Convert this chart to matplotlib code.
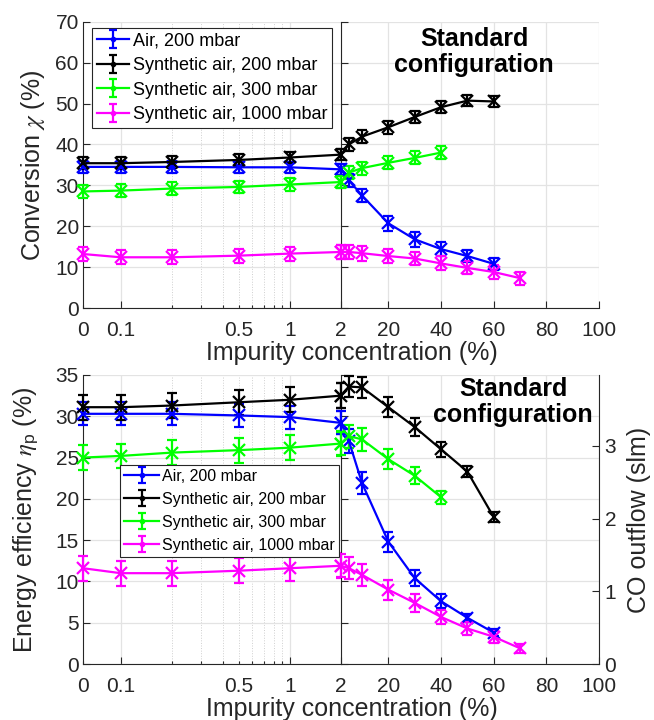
import numpy as np
import matplotlib
matplotlib.use('Agg')
import matplotlib.pyplot as plt
import matplotlib.ticker as ticker

plt.rcParams['font.family'] = ['Liberation Sans', 'DejaVu Sans']
plt.rcParams['mathtext.fontset'] = 'custom'
plt.rcParams['mathtext.rm'] = 'Liberation Sans'
plt.rcParams['mathtext.it'] = 'STIXGeneral:italic'

# impurity concentration (%), low range on log axis, high range linear
x_low = [0, 0.1, 0.2, 0.5, 1, 2]
x_high = [2, 5, 10, 20, 30, 40, 50, 60, 70]

labels = ['Air, 200 mbar', 'Synthetic air, 200 mbar',
          'Synthetic air, 300 mbar', 'Synthetic air, 1000 mbar']
colors = ['#0000ff', '#000000', '#00ff00', '#ff00ff']

# conversion chi (%)
conv_air200_low = [34.5, 34.5, 34.5, 34.4, 34.4, 33.9]
conv_air200_high = [33.9, 31.2, 27.5, 20.7, 16.8, 14.4, 12.7, 10.8]
conv_syn200_low = [35.4, 35.4, 35.7, 36.2, 36.8, 37.5]
conv_syn200_high = [37.5, 40.0, 41.9, 44.2, 46.7, 49.1, 50.7, 50.5]
conv_syn300_low = [28.5, 28.7, 29.2, 29.6, 30.2, 30.8]
conv_syn300_high = [30.8, 33.1, 34.2, 35.5, 36.7, 38.0]
conv_syn1000_low = [13.2, 12.4, 12.4, 12.8, 13.3, 13.7]
conv_syn1000_high = [13.7, 13.7, 13.4, 12.7, 12.1, 10.9, 9.8, 8.8, 7.3]

conv_air200_low_err = [1.4, 1.4, 1.4, 1.4, 1.4, 1.4]
conv_air200_high_err = [1.4, 1.5, 1.6, 1.8, 1.8, 1.7, 1.5, 1.4]
conv_syn200_low_err = [1.4, 1.4, 1.4, 1.4, 1.4, 1.4]
conv_syn200_high_err = [1.4, 1.5, 1.6, 1.6, 1.5, 1.5, 1.4, 1.4]
conv_syn300_low_err = [1.5, 1.5, 1.5, 1.5, 1.5, 1.5]
conv_syn300_high_err = [1.5, 1.6, 1.6, 1.6, 1.6, 1.6]
conv_syn1000_low_err = [1.7, 1.7, 1.7, 1.7, 1.7, 1.7]
conv_syn1000_high_err = [1.7, 1.7, 1.8, 1.7, 1.7, 1.7, 1.6, 1.6, 1.6]

# energy efficiency eta_p (%)
eff_air200_low = [30.3, 30.3, 30.3, 30.1, 29.9, 29.2]
eff_air200_high = [29.2, 27.0, 21.9, 14.8, 10.4, 7.6, 5.6, 3.8]
eff_syn200_low = [31.1, 31.1, 31.3, 31.7, 32.0, 32.5]
eff_syn200_high = [32.5, 33.6, 33.5, 31.1, 28.7, 26.0, 23.3, 17.8]
eff_syn300_low = [25.0, 25.2, 25.6, 25.9, 26.2, 26.7]
eff_syn300_high = [26.7, 27.6, 27.2, 24.8, 22.8, 20.2]
eff_syn1000_low = [11.6, 11.0, 11.0, 11.3, 11.6, 11.9]
eff_syn1000_high = [11.9, 11.6, 10.8, 9.0, 7.4, 5.7, 4.3, 3.3, 1.9]

eff_air200_low_err = [1.4, 1.4, 1.4, 1.4, 1.4, 1.4]
eff_air200_high_err = [1.4, 1.4, 1.3, 1.2, 1.0, 0.85, 0.5, 0.45]
eff_syn200_low_err = [1.5, 1.5, 1.5, 1.5, 1.5, 1.5]
eff_syn200_high_err = [1.5, 1.25, 1.3, 1.2, 1.1, 0.9, 0.7, 0.6]
eff_syn300_low_err = [1.5, 1.5, 1.5, 1.5, 1.5, 1.5]
eff_syn300_high_err = [1.4, 1.4, 1.4, 1.2, 1.0, 0.8]
eff_syn1000_low_err = [1.5, 1.5, 1.5, 1.5, 1.5, 1.5]
eff_syn1000_high_err = [1.4, 1.35, 1.3, 1.2, 1.1, 0.9, 0.75, 0.7, 0.55]

low_ticks = [0, 0.1, 0.5, 1]
high_ticks = [2, 20, 40, 60, 80, 100]
co_ticks = [0, 1, 2, 3]

X_ZERO = 0.06          # where "0" sits on the log axis
EFF_PER_SLM = 8.805    # efficiency (%) per slm of CO outflow

spine_col = '#262626'
grid_col = '#e3e3e3'
TICK_FS = 15

fig = plt.figure(figsize=(6.54, 7.2), dpi=100)
W, H = 654.0, 720.0
L, M, R = 83 / W, 341 / W, 599 / W
top_y, top_h = 1 - 308 / H, (308 - 21.7) / H
bot_y, bot_h = 1 - 664 / H, (664 - 375) / H

ax_tl = fig.add_axes([L, top_y, M - L, top_h])
ax_tr = fig.add_axes([M, top_y, R - M, top_h])
ax_bl = fig.add_axes([L, bot_y, M - L, bot_h])
ax_br = fig.add_axes([M, bot_y, R - M, bot_h])


def low_fmt(v, pos):
    if abs(v - X_ZERO) < 1e-9:
        return '0'
    if abs(v - 0.5) < 1e-9:
        return '0.5'
    return ''


def style_pair(axl, axr, ylim, yticks):
    for ax in (axl, axr):
        ax.set_ylim(ylim)
        ax.set_yticks(yticks)
        ax.spines['top'].set_visible(False)
        ax.spines['right'].set_visible(False)
        for s in ('left', 'bottom'):
            ax.spines[s].set_color(spine_col)
            ax.spines[s].set_linewidth(0.8)
        ax.tick_params(which='both', direction='in', labelsize=TICK_FS,
                       color=spine_col, labelcolor='#262626', width=0.8)
        ax.tick_params(which='major', length=5)
        ax.tick_params(which='minor', length=2.5)
        ax.tick_params(axis='x', which='both', pad=9)
        ax.tick_params(axis='y', pad=3)
        ax.grid(True, which='major', color=grid_col, lw=0.9)
        ax.set_axisbelow(True)
    axl.set_xscale('log')
    axl.set_xlim(X_ZERO, 2)
    axl.xaxis.set_major_locator(ticker.FixedLocator([0.1, 1]))
    axl.xaxis.set_major_formatter(ticker.FixedFormatter(['0.1', '1']))
    minors = [X_ZERO] + [0.2, 0.3, 0.4, 0.5, 0.6, 0.7, 0.8, 0.9]
    axl.xaxis.set_minor_locator(ticker.FixedLocator(minors))
    axl.xaxis.set_minor_formatter(ticker.FuncFormatter(low_fmt))
    axl.grid(True, which='minor', axis='x', color='#cfcfcf', lw=0.7, ls=':')
    axr.set_xlim(2, 100)
    axr.set_xticks(high_ticks)
    axr.set_xticklabels([str(t) for t in high_ticks])
    axr.tick_params(labelleft=False)


def draw(ax, x, y, e, color, ms):
    cont = ax.errorbar(x, y, yerr=e, color=color, marker='x', ms=ms, mew=1.6,
                       lw=1.6, elinewidth=1.6, capsize=3.5, capthick=1.6,
                       zorder=3)
    for art in cont.get_children():
        art.set_clip_on(False)


style_pair(ax_tl, ax_tr, (0, 70), np.arange(0, 71, 10))
style_pair(ax_bl, ax_br, (0, 35), np.arange(0, 36, 5))

x_low_pos = [X_ZERO if v == 0 else v for v in x_low]

conv_low = [conv_air200_low, conv_syn200_low, conv_syn300_low, conv_syn1000_low]
conv_high = [conv_air200_high, conv_syn200_high, conv_syn300_high, conv_syn1000_high]
conv_low_err = [conv_air200_low_err, conv_syn200_low_err, conv_syn300_low_err, conv_syn1000_low_err]
conv_high_err = [conv_air200_high_err, conv_syn200_high_err, conv_syn300_high_err, conv_syn1000_high_err]
eff_low = [eff_air200_low, eff_syn200_low, eff_syn300_low, eff_syn1000_low]
eff_high = [eff_air200_high, eff_syn200_high, eff_syn300_high, eff_syn1000_high]
eff_low_err = [eff_air200_low_err, eff_syn200_low_err, eff_syn300_low_err, eff_syn1000_low_err]
eff_high_err = [eff_air200_high_err, eff_syn200_high_err, eff_syn300_high_err, eff_syn1000_high_err]

for i, c in enumerate(colors):
    draw(ax_tl, x_low_pos, conv_low[i], conv_low_err[i], c, 9)
    n = len(conv_high[i])
    draw(ax_tr, x_high[:n], conv_high[i], conv_high_err[i], c, 9)
    draw(ax_bl, x_low_pos, eff_low[i], eff_low_err[i], c, 8)
    n = len(eff_high[i])
    draw(ax_br, x_high[:n], eff_high[i], eff_high_err[i], c, 8)

# CO outflow axis on the right of the lower panel
ax_co = ax_br.twinx()
ax_co.set_ylim(0, 35 / EFF_PER_SLM)
ax_co.set_yticks(co_ticks)
for s in ('left', 'top', 'bottom'):
    ax_co.spines[s].set_visible(False)
ax_co.spines['right'].set_color(spine_col)
ax_co.spines['right'].set_linewidth(0.8)
ax_co.tick_params(direction='in', labelsize=TICK_FS, length=5, width=0.8,
                  color=spine_col, labelcolor='#262626', pad=4)

# legends (proxy errorbars with a dot marker)
proxies = []
for lab, c in zip(labels, colors):
    proxies.append(ax_tr.errorbar([np.nan], [np.nan], yerr=[np.nan], color=c,
                                  marker='.', ms=6, lw=1.6, capsize=3,
                                  capthick=1.6, label=lab))

leg_kw = dict(loc='upper left', frameon=True, fancybox=False, framealpha=1,
              edgecolor=spine_col, borderaxespad=0, handletextpad=0.2,
              borderpad=0.25)
leg1 = fig.legend(proxies, labels, bbox_to_anchor=(92 / W, 1 - 28 / H),
                  fontsize=13, handlelength=1.8, labelspacing=0.42, **leg_kw)
leg2 = fig.legend(proxies, labels, bbox_to_anchor=(120 / W, 1 - 465 / H),
                  fontsize=11.5, handlelength=2.2, labelspacing=0.5, **leg_kw)
for lg in (leg1, leg2):
    lg.get_frame().set_linewidth(0.8)

# axis labels
txt = dict(fontsize=18, color='#262626', ha='center', va='center')
fig.text(352 / W, 1 - 353 / H, 'Impurity concentration (%)', **txt)
fig.text(352 / W, 1 - 709 / H, 'Impurity concentration (%)', **txt)
fig.text(33 / W, 1 - 165 / H, r'Conversion $\chi$ (%)', rotation=90, **txt)
fig.text(26 / W, 1 - 519.5 / H, r'Energy efficiency $\eta_\mathrm{p}$ (%)',
         rotation=90, **txt)
fig.text(639 / W, 1 - 519.5 / H, 'CO outflow (slm)', rotation=90, **txt)

# annotations
fig.text(474 / W, 1 - 52 / H, 'Standard\nconfiguration', fontsize=18,
         fontweight='bold', ha='center', va='center', linespacing=1.1)
fig.text(513 / W, 1 - 402 / H, 'Standard\nconfiguration', fontsize=18,
         fontweight='bold', ha='center', va='center', linespacing=1.1)

fig.savefig('out.png', dpi=100)
